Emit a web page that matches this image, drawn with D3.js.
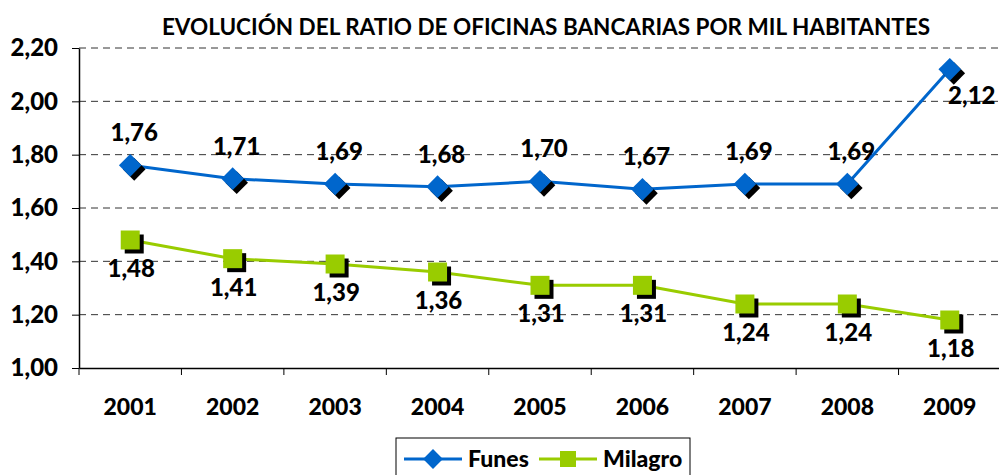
<!DOCTYPE html>
<html>
<head>
<meta charset="utf-8">
<script src="https://cdn.jsdelivr.net/npm/d3@7"></script>
<style>
  body { margin: 0; background: #fff; }
  text { font-family: Lato, "Open Sans", sans-serif; font-weight: 900; }
</style>
</head>
<body>
<div id="chart"></div>
<script>
// data
var years = ["2001", "2002", "2003", "2004", "2005", "2006", "2007", "2008", "2009"];
var funes = [1.76, 1.71, 1.69, 1.68, 1.70, 1.67, 1.69, 1.69, 2.12];
var milagro = [1.48, 1.41, 1.39, 1.36, 1.31, 1.31, 1.24, 1.24, 1.18];
var yTicks = [1.00, 1.20, 1.40, 1.60, 1.80, 2.00, 2.20];

function init() {
  var w = 999, h = 475;
  var left = 79, right = 1001, top = 48, bottom = 368;

  var svg = d3.select("#chart").append("svg")
    .attr("width", w).attr("height", h);

  var x = d3.scaleBand().domain(years).range([left, right]);
  var y = d3.scaleLinear().domain([1, 2.2]).range([bottom, top]);
  var fmt = function(v) { return d3.format(".2f")(v).replace(".", ","); };

  // title
  svg.append("text")
    .attr("x", 546).attr("y", 35)
    .attr("text-anchor", "middle")
    .style("font-size", "22.5px")
    .style("font-weight", "bold")
    .text("EVOLUCIÓN DEL RATIO DE OFICINAS BANCARIAS POR MIL HABITANTES");

  // grid lines
  svg.selectAll("line.grid")
    .data(yTicks.slice(1))
    .enter().append("line")
    .attr("class", "grid")
    .attr("x1", left).attr("x2", w)
    .attr("y1", function(d) { return y(d); })
    .attr("y2", function(d) { return y(d); })
    .attr("stroke", "#333")
    .attr("stroke-width", 1)
    .attr("stroke-dasharray", "7,5");

  // y axis
  var yAxis = d3.axisLeft(y).tickValues(yTicks).tickFormat(fmt).tickSize(7).tickSizeOuter(0);
  var gy = svg.append("g").attr("transform", "translate(" + left + ",0)").call(yAxis);
  gy.select(".domain").attr("stroke", "#000").attr("stroke-width", 1.5);
  gy.selectAll("text").style("font-size", "24px").attr("x", -21).attr("fill", "#000");

  // x axis
  var xAxis = d3.axisBottom(x).tickSize(0);
  var gx = svg.append("g").attr("transform", "translate(0," + bottom + ")").call(xAxis);
  gx.select(".domain").attr("stroke", "#000").attr("stroke-width", 1.5);
  gx.selectAll("text").style("font-size", "23px").attr("y", 31).attr("fill", "#000");
  gx.selectAll("line.sep")
    .data(years)
    .enter().append("line")
    .attr("class", "sep")
    .attr("x1", function(d) { return x(d); })
    .attr("x2", function(d) { return x(d); })
    .attr("y1", 0).attr("y2", 7)
    .attr("stroke", "#000");

  var cx = function(d, i) { return x(years[i]) + x.bandwidth() / 2; };
  var line = d3.line().x(cx).y(function(d) { return y(d); });

  var series = [
    { name: "Funes", values: funes, color: "#0066CC", rot: 45, size: 256 },
    { name: "Milagro", values: milagro, color: "#99CC00", rot: 0, size: 361 }
  ];

  series.forEach(function(s) {
    svg.append("path")
      .datum(s.values)
      .attr("d", line)
      .attr("fill", "none")
      .attr("stroke", s.color)
      .attr("stroke-width", 3);
  });

  series.forEach(function(s) {
    var sym = d3.symbol().type(d3.symbolSquare).size(s.size);
    // shadow
    svg.selectAll(null)
      .data(s.values)
      .enter().append("path")
      .attr("d", sym)
      .attr("transform", function(d, i) {
        return "translate(" + (cx(d, i) + 4) + "," + (y(d) + 4) + ") rotate(" + s.rot + ")";
      })
      .attr("fill", "#000");
    svg.selectAll(null)
      .data(s.values)
      .enter().append("path")
      .attr("d", sym)
      .attr("transform", function(d, i) {
        return "translate(" + cx(d, i) + "," + y(d) + ") rotate(" + s.rot + ")";
      })
      .attr("fill", s.color);
  });

  // data labels
  svg.selectAll(null)
    .data(funes)
    .enter().append("text")
    .attr("x", function(d, i) { return cx(d, i) + (i === 8 ? 22 : 4); })
    .attr("y", function(d, i) { return y(d) + (i === 8 ? 35 : -24); })
    .attr("text-anchor", "middle")
    .style("font-size", "24px")
    .text(fmt);

  svg.selectAll(null)
    .data(milagro)
    .enter().append("text")
    .attr("x", function(d, i) { return cx(d, i) + 1; })
    .attr("y", function(d, i) { return y(d) + 37; })
    .attr("text-anchor", "middle")
    .style("font-size", "24px")
    .text(fmt);

  // legend
  var lg = svg.append("g");
  lg.append("rect")
    .attr("x", 396).attr("y", 438)
    .attr("width", 294).attr("height", 50)
    .attr("fill", "#fff").attr("stroke", "#000").attr("stroke-width", 1);
  var items = [
    { s: series[0], x0: 404 },
    { s: series[1], x0: 539 }
  ];
  items.forEach(function(it) {
    lg.append("line")
      .attr("x1", it.x0).attr("x2", it.x0 + 58)
      .attr("y1", 459).attr("y2", 459)
      .attr("stroke", it.s.color).attr("stroke-width", 3);
    lg.append("path")
      .attr("d", d3.symbol().type(d3.symbolSquare).size(it.s.rot ? 196 : 256))
      .attr("transform", "translate(" + (it.x0 + 29) + ",459) rotate(" + it.s.rot + ")")
      .attr("fill", it.s.color);
    lg.append("text")
      .attr("x", it.x0 + 64).attr("y", 467)
      .style("font-size", "23px")
      .text(it.s.name);
  });
}
window.onload = init;
</script>
</body>
</html>
